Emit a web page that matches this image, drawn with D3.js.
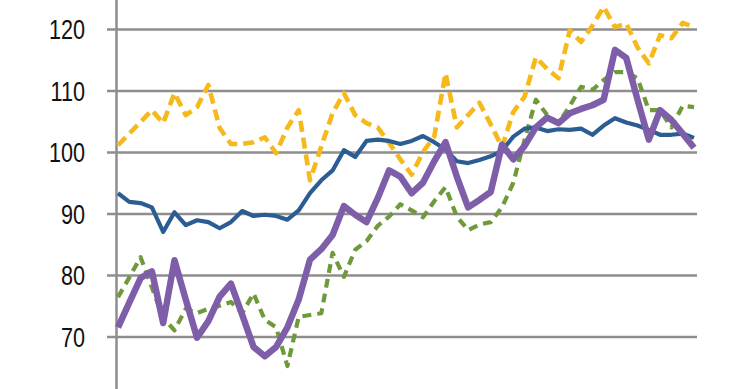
<!DOCTYPE html>
<html>
  <head>
    <meta charset="utf-8">
    <title>Index chart</title>
    <script src="https://d3js.org/d3.v7.min.js"></script>
    <style>
      body { margin: 0; background: #fff; overflow: hidden; }
      svg { display: block; }
      .tick text { font-family: "Liberation Sans", Arial, sans-serif; font-size: 27px; fill: #111; }
    </style>
  </head>
  <body>
    <div id="chart"></div>
    <script>
      // data: 52 periods, four series
      var periods = d3.range(52);
      var yTicks = [60, 70, 80, 90, 100, 110, 120];
      var blue = [93.3, 91.9, 91.7, 91.0, 87.0, 90.2, 88.1, 88.9, 88.6, 87.6, 88.6, 90.4, 89.6, 89.8, 89.6, 89.0,
        90.5, 93.3, 95.4, 97.0, 100.3, 99.2, 101.8, 102.0, 101.8, 101.3, 101.8, 102.6, 101.6, 100.4, 98.5, 98.2,
        98.7, 99.3, 100.2, 102.5, 103.8, 104.0, 103.4, 103.7, 103.6, 103.8, 102.8, 104.3, 105.5, 104.8, 104.3,
        103.6, 102.8, 102.8, 103.0, 102.3];
      var orange = [101.1, 103.0, 104.9, 106.8, 104.7, 109.6, 106.0, 107.3, 110.9, 103.9, 101.3, 101.3, 101.6, 102.4,
        99.8, 104.0, 106.8, 95.4, 100.9, 106.3, 109.6, 106.0, 104.7, 104.0, 101.5, 98.8, 96.3, 100.0, 102.5, 112.8,
        104.0, 106.0, 108.0, 104.5, 100.8, 106.5, 109.0, 115.4, 113.5, 112.0, 119.8, 117.9, 120.5, 123.6, 120.3,
        120.9, 117.0, 114.4, 119.0, 118.5, 121.0, 120.3];
      var green = [76.4, 79.6, 82.9, 78.0, 73.0, 71.0, 74.5, 73.8, 74.5, 75.0, 75.6, 73.8, 77.0, 72.7, 71.5, 65.2,
        73.2, 73.5, 73.8, 83.6, 79.7, 84.1, 85.5, 88.0, 89.5, 91.5, 90.5, 89.4, 92.0, 94.3, 89.5, 87.3, 88.2, 88.6,
        91.0, 95.0, 102.0, 108.5, 106.0, 104.7, 107.5, 110.6, 110.1, 111.7, 113.0, 113.0, 112.0, 106.8, 106.8,
        104.0, 107.5, 107.3];
      var purple = [71.5, 75.5, 79.5, 80.6, 72.2, 82.4, 76.0, 69.8, 72.5, 76.5, 78.6, 73.5, 68.3, 66.8, 68.3, 71.5,
        76.0, 82.5, 84.2, 86.5, 91.2, 89.8, 88.6, 92.5, 97.0, 96.0, 93.3, 95.0, 98.5, 101.6, 96.0, 91.0, 92.2, 93.5,
        101.2, 98.8, 101.0, 104.0, 105.6, 104.7, 106.3, 107.0, 107.6, 108.5, 116.6, 115.3, 108.5, 102.0, 106.8,
        105.2, 103.0, 100.7];

      var width = 740, height = 389;
      var svg = d3.select("#chart")
        .append("svg")
          .attr("width", width)
          .attr("height", height);

      var x = d3.scaleLinear().domain([0, periods.length - 1]).range([118, 694]);
      var y = d3.scaleLinear().domain([60, 120]).range([398, 29]);

      // gridlines and tick labels
      var gridLeft = 107, gridRight = 697;
      svg.append("g")
          .attr("transform", "translate(" + gridLeft + ",0)")
          .call(d3.axisLeft(y)
            .tickValues(yTicks)
            .tickSize(-(gridRight - gridLeft))
            .tickPadding(22))
          .call(function(g) {
            g.select(".domain").remove();
            g.selectAll(".tick line")
              .attr("stroke", "#8e8e8e")
              .attr("stroke-width", 2.5);
            // narrow the labels like the original condensed face
            g.selectAll(".tick text")
              .attr("x", 0)
              .attr("dy", "0.36em")
              .attr("transform", "translate(-22,0) scale(0.8,1)");
          });

      // vertical axis
      svg.append("line")
          .attr("x1", 116.5).attr("x2", 116.5)
          .attr("y1", 0).attr("y2", height)
          .attr("stroke", "#8e8e8e")
          .attr("stroke-width", 2.5);

      var line = d3.line()
        .x(function(d, i) { return x(periods[i]); })
        .y(function(d) { return y(d); });

      var series = [
        { values: green, colour: "#6e9a3a", width: 4.2, dash: "9,6" },
        { values: orange, colour: "#f6b91c", width: 4.6, dash: "11,6" },
        { values: blue, colour: "#2b5d92", width: 4.2, dash: null },
        { values: purple, colour: "#7f5ea9", width: 6.5, dash: null }
      ];

      svg.selectAll(".series")
        .data(series)
        .enter().append("path")
          .classed("series", true)
          .attr("d", function(d) { return line(d.values); })
          .attr("fill", "none")
          .attr("stroke", function(d) { return d.colour; })
          .attr("stroke-width", function(d) { return d.width; })
          .attr("stroke-dasharray", function(d) { return d.dash; })
          .attr("stroke-linejoin", "round");
    </script>
  </body>
</html>
